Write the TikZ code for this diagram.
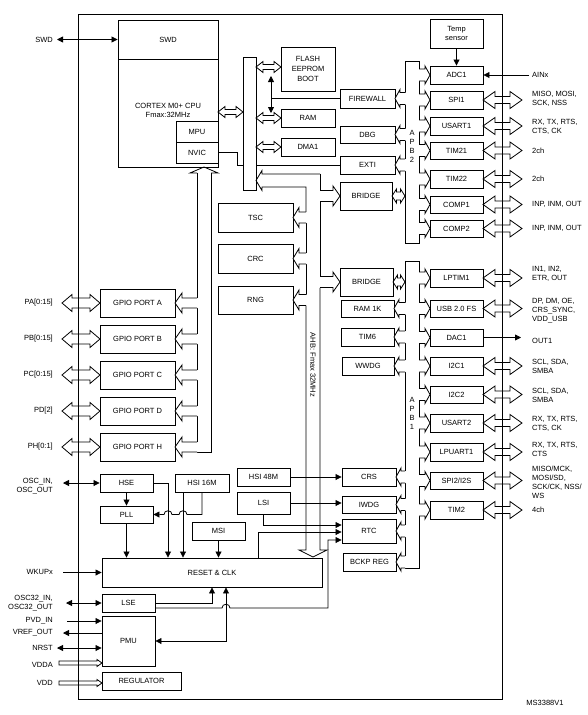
\documentclass[tikz,border=0pt]{standalone}
\usepackage{fontspec}
\setmainfont{Liberation Sans}
\usetikzlibrary{arrows.meta}
\newcommand\fs{\fontsize{7.5}{9}\selectfont}
\tikzset{
  box/.style={draw, line width=0.9pt, fill=white, inner sep=0pt, font=\fs, align=center},
  ln/.style={line width=0.8pt},
  sig/.style={line width=0.8pt, -{Triangle[length=6pt,width=6pt]}},
  dsig/.style={line width=0.8pt, {Triangle[length=6pt,width=6pt]}-{Triangle[length=6pt,width=6pt]}},
  lbl/.style={font=\fs, align=right, anchor=east, inner sep=0pt},
  rlbl/.style={font=\fs, align=left, anchor=west, inner sep=0pt},
  txt/.style={font=\fs, align=center, inner sep=0pt},
}
\newcommand\bx[6]{\node[box, minimum width={(#4-#2)*1pt}, minimum height={(#5-#3)*1pt}] (#1) at ({(#2+#4)/2},{(#3+#5)/2}) {#6};}
% chevron bus connector: tip, wall, yc, S, H, L
\newcommand\chev[6]{%
  \pgfmathsetmacro\chS{sign(#2-#1)}%
  \pgfmathsetmacro\chB{#1+\chS*#6}%
  \pgfmathsetmacro\chM{#2+\chS*1.2}%
  \fill[white] (\chM,{#3-#4}) -- (\chB,{#3-#4}) -- (\chB,{#3-#5}) -- (#1,#3) -- (\chB,{#3+#5}) -- (\chB,{#3+#4}) -- (\chM,{#3+#4}) -- cycle;
  \draw[ln] (#2,{#3-#4}) -- (\chB,{#3-#4}) -- (\chB,{#3-#5}) -- (#1,#3) -- (\chB,{#3+#5}) -- (\chB,{#3+#4}) -- (#2,{#3+#4});
}
% hollow double arrow: x1, x2, y, S, H, L
\newcommand\dblH[6]{%
  \draw[ln] (#1,#3) -- ({#1+#6},{#3-#5}) -- ({#1+#6},{#3-#4}) -- ({#2-#6},{#3-#4}) -- ({#2-#6},{#3-#5}) -- (#2,#3) -- ({#2-#6},{#3+#5}) -- ({#2-#6},{#3+#4}) -- ({#1+#6},{#3+#4}) -- ({#1+#6},{#3+#5}) -- cycle;
}
\begin{document}
\begin{tikzpicture}[x=1pt,y=-1pt]
\useasboundingbox (0,0) rectangle (587,715);
\node[draw, line width=0.9pt, minimum width=424pt, minimum height=685pt, inner sep=0pt] (frame) at (290,356.5) {};

% CPU
\bx{cpu}{118}{20}{218}{167}{}
\bx{swd}{118}{20}{218}{59}{SWD}
\node[txt] (cputxt) at (168,110.5) {CORTEX M0+ CPU\\Fmax:32MHz};
\bx{mpu}{176}{121}{218}{142}{MPU}
\bx{nvic}{176}{142}{218}{163}{NVIC}

% memory side
\bx{flash}{281}{47}{335}{91}{FLASH\\[1pt]EEPROM\\[1pt]BOOT}
\bx{ram}{281}{109}{335}{127}{RAM}
\bx{dma}{281}{138}{335}{156}{DMA1}
\bx{firewall}{340}{89}{395}{108}{FIREWALL}
\bx{dbg}{340}{126}{395}{143}{DBG}
\bx{exti}{340}{156}{395}{174}{EXTI}
\bx{bridgeb}{340}{182}{392}{210}{BRIDGE}
\bx{tsc}{218}{203}{293}{232}{TSC}
\bx{crc}{218}{244}{293}{273}{CRC}
\bx{rng}{218}{286}{293}{314}{RNG}
\bx{bridgea}{340}{268}{393}{296}{BRIDGE}
\bx{ramk}{341}{300}{394}{317}{RAM 1K}
\bx{timsix}{341}{328}{394}{346}{TIM6}
\bx{wwdg}{342}{357}{394}{375}{WWDG}
\bx{hsife}{237}{468}{290}{486}{HSI 48M}
\bx{crs}{342}{468}{396}{486}{CRS}
\bx{lsi}{237}{492}{290}{514}{LSI}
\bx{iwdg}{342}{496}{396}{513}{IWDG}
\bx{rtc}{342}{519}{396}{543}{RTC}
\bx{bckp}{343}{553}{396}{571}{BCKP REG}

% APB2 peripherals
\bx{temp}{430}{19}{483}{48}{Temp\\sensor}
\bx{adc}{430}{66}{483}{84}{ADC1}
\bx{spia}{430}{91}{483}{109}{SPI1}
\bx{usarta}{430}{117}{483}{135}{USART1}
\bx{timta}{430}{142}{483}{159}{TIM21}
\bx{timtb}{430}{170}{483}{188}{TIM22}
\bx{compa}{430}{196}{483}{213}{COMP1}
\bx{compb}{430}{220}{483}{237}{COMP2}
% APB1 peripherals
\bx{lptim}{430}{269}{483}{287}{LPTIM1}
\bx{usb}{430}{300}{483}{317}{USB 2.0 FS}
\bx{dac}{430}{329}{483}{346}{DAC1}
\bx{icca}{430}{357}{483}{375}{I2C1}
\bx{iccb}{430}{386}{483}{403}{I2C2}
\bx{usartb}{430}{414}{483}{432}{USART2}
\bx{lpuart}{430}{443}{483}{461}{LPUART1}
\bx{spib}{430}{472}{483}{489}{SPI2/I2S}
\bx{timtwo}{430}{501}{483}{519}{TIM2}

% GPIO
\bx{gpa}{100}{289}{175}{317}{GPIO PORT A}
\bx{gpb}{100}{325}{175}{353}{GPIO PORT B}
\bx{gpc}{100}{361}{175}{389}{GPIO PORT C}
\bx{gpd}{100}{397}{175}{425}{GPIO PORT D}
\bx{gph}{100}{433}{175}{461}{GPIO PORT H}

% clocks / power
\bx{hse}{100}{474}{153}{492}{HSE}
\bx{hsis}{175}{474}{229}{492}{HSI 16M}
\bx{pll}{100}{506}{153}{523}{PLL}
\bx{msi}{192}{522}{245}{540}{MSI}
\bx{reset}{102}{558}{322}{587}{RESET \& CLK}
\bx{lse}{102}{594}{155}{612}{LSE}
\bx{pmu}{102}{616}{155}{666}{PMU}
\bx{reg}{102}{672}{181}{690}{REGULATOR}

% NVIC -> EXTI (behind bus bar)
\draw[ln] (nvic.east) -- (237,152.5) |- (exti.west);

% bus bars
\bx{cbus}{243}{57}{256}{190}{}
\bx{apbb}{405}{61}{419}{243}{}
\bx{apba}{405}{261}{419}{568}{}
\node[txt] (apbbt) at (412,146.5) {A\\P\\B\\2};
\node[txt] (apbat) at (412,413) {A\\P\\B\\1};

% CPU <-> bus bar, bar <-> memories
\dblH{218}{243}{112}{2.5}{5.5}{7}
\dblH{256}{281}{67}{2.5}{5.5}{7}
\dblH{256}{281}{118}{2.5}{5.5}{7}
\dblH{256}{281}{147}{2.5}{5.5}{7}
\draw[dsig] (271,76) -- (271,113);
\draw[ln] (firewall.west) -- (271,0 |- firewall.west);

% APB2 left side
\chev{395}{405}{98.5}{6}{9}{5}
\chev{395}{405}{134.5}{6}{9}{5}
\chev{395}{405}{165}{6}{9}{5}
\dblH{392}{405}{196}{4}{7}{4.5}
% APB2 right side
\chev{430}{419}{75}{6}{9}{5}
\chev{430}{419}{100}{6}{9}{5}
\chev{430}{419}{126}{6}{9}{5}
\chev{430}{419}{150.5}{6}{9}{5}
\chev{430}{419}{179}{6}{9}{5}
\chev{430}{419}{204.5}{6}{9}{5}
\chev{430}{419}{228.5}{6}{9}{5}
% APB1 left side
\dblH{393}{405}{282}{4}{7}{4.5}
\chev{394}{405}{308.5}{6}{9}{5}
\chev{394}{405}{337}{6}{9}{5}
\chev{394}{405}{366}{6}{9}{5}
\chev{396}{405}{477}{6}{9}{5}
\chev{396}{405}{504.5}{6}{9}{5}
\chev{396}{405}{531}{6}{9}{5}
\chev{396}{405}{562}{6}{9}{5}
% APB1 right side
\chev{430}{419}{278}{6}{9}{5}
\chev{430}{419}{308.5}{6}{9}{5}
\chev{430}{419}{337.5}{6}{9}{5}
\chev{430}{419}{366}{6}{9}{5}
\chev{430}{419}{394.5}{6}{9}{5}
\chev{430}{419}{423}{6}{9}{5}
\chev{430}{419}{452}{6}{9}{5}
\chev{430}{419}{480.5}{6}{9}{5}
\chev{430}{419}{510}{6}{9}{5}

% AHB bus
\draw[ln] (320,174) -- (262,174) -- (262,170.5) -- (256,180.5) -- (262,190.5) -- (262,187) -- (306,187) -- (306,212);
\draw[ln] (320,174) -- (320,190.5);
\draw[ln] (320,201.5) -- (320,276.5);
\draw[ln] (306,223) -- (306,253);
\draw[ln] (306,264) -- (306,294.5);
\draw[ln] (306,305.5) -- (306,550) -- (299,550) -- (313,557) -- (327,550) -- (320,550) -- (320,287.5);
\chev{293}{306}{217.5}{5.5}{10}{6}
\chev{293}{306}{258.5}{5.5}{10}{6}
\chev{293}{306}{300}{5.5}{10}{6}
\chev{340}{320}{196}{5.5}{10}{7}
\chev{340}{320}{282}{5.5}{10}{7}
\node[txt, rotate=-90] (ahbt) at (313,365) {AHB: Fmax 32MHz};

% GPIO bus
\draw[ln] (197,173) -- (197,298);
\draw[ln] (197,308) -- (197,334);
\draw[ln] (197,344) -- (197,370);
\draw[ln] (197,380) -- (197,406);
\draw[ln] (197,416) -- (197,442);
\draw[ln] (197,452) -- (211,452) -- (211,173);
\draw[ln] (197,173) -- (190,173) -- (204,167) -- (218,173) -- (211,173);
\chev{175}{197}{303}{5}{10}{7}
\chev{175}{197}{339}{5}{10}{7}
\chev{175}{197}{375}{5}{10}{7}
\chev{175}{197}{411}{5}{10}{7}
\chev{175}{197}{447}{5}{10}{7}

% GPIO pins
\dblH{62}{100}{303}{5}{8.5}{10}
\dblH{62}{100}{339}{5}{8.5}{10}
\dblH{62}{100}{375}{5}{8.5}{10}
\dblH{62}{100}{411}{5}{8.5}{10}
\dblH{62}{100}{447}{5}{8.5}{10}
\node[lbl] (lpa) at (53,303) {PA[0:15]};
\node[lbl] (lpb) at (53,339) {PB[0:15]};
\node[lbl] (lpc) at (53,375) {PC[0:15]};
\node[lbl] (lpd) at (53,411) {PD[2]};
\node[lbl] (lph) at (53,447) {PH[0:1]};

% left signals
\node[lbl] (lswd) at (53,40) {SWD};
\draw[dsig] (57,39.5) -- (swd.west);
\node[lbl] (losc) at (53,486.5) {OSC\_IN,\\OSC\_OUT};
\draw[dsig] (63,483) -- (hse.west);
\node[lbl] (lwk) at (53,572) {WKUPx};
\draw[sig] (63,572.5) -- (reset.west);
\node[lbl] (losct) at (53,603.5) {OSC32\_IN,\\OSC32\_OUT};
\draw[dsig] (66,603) -- (lse.west);
\node[lbl] (lpvd) at (53,621) {PVD\_IN};
\draw[sig] (67,621) -- (pmu.west |- 0,621);
\node[lbl] (lvref) at (53,633) {VREF\_OUT};
\draw[sig] (pmu.west |- 0,633) -- (63,633);
\node[lbl] (lnrst) at (53,648) {NRST};
\draw[dsig] (57,648) -- (pmu.west |- 0,648);
\node[lbl] (lvdda) at (53,665) {VDDA};
\draw[ln] (59,661) -- (97,661) -- (97,659.5) -- (102,663) -- (97,666.5) -- (97,665) -- (59,665) -- cycle;
\node[lbl] (lvdd) at (53,683) {VDD};
\draw[ln] (59,681) -- (97,681) -- (97,679.5) -- (102,683) -- (97,686.5) -- (97,685) -- (59,685) -- cycle;

% clock tree
\draw[sig] (hse.south) -- (pll.north);
\draw[sig] (hse.east) -| (168,0 |- reset.north);
\draw[sig] (183,0 |- hsis.south) -- (183,0 |- reset.north);
\draw[sig] (202,0 |- hsis.south) |- (187,514.5) .. controls (187,509.5) and (179,509.5) .. (179,514.5) -- (172,514.5) .. controls (172,509.5) and (164,509.5) .. (164,514.5) -- (pll.east);
\draw[sig] (pll.south) -- (pll.south |- reset.north);
\draw[sig] (msi.south) -- (msi.south |- reset.north);
\draw[sig] (lse.east) -| (212,0 |- reset.south);
\draw[sig] (lse.east |- 0,608) -- (222,608) .. controls (222,603) and (230,603) .. (230,608) -- (328,608) |- (rtc.west |- 0,540);
\draw[dsig] (226,0 |- reset.south) |- (pmu.east);
\draw[sig] (258,0 |- reset.north) |- (rtc.west |- 0,532);
\draw[sig] (lsi.south) |- (rtc.west |- 0,525);
\draw[sig] (lsi.east) -- (iwdg.west |- lsi.east);
\draw[sig] (hsife.east) -- (crs.west);

% APB2 right signals
\draw[sig] (temp.south) -- (adc.north);
\draw[sig] (529,75) -- (adc.east);
\node[rlbl] (rain) at (532,75) {AINx};
\dblH{483}{522}{100}{3.5}{8.5}{12}
\node[rlbl] (rspia) at (532,98.5) {MISO, MOSI,\\SCK, NSS};
\dblH{483}{522}{126}{3.5}{8.5}{12}
\node[rlbl] (rusa) at (532,126.5) {RX, TX, RTS,\\CTS, CK};
\dblH{483}{522}{150.5}{3.5}{8.5}{12}
\node[rlbl] (rtima) at (532,150.5) {2ch};
\dblH{483}{522}{179}{3.5}{8.5}{12}
\node[rlbl] (rtimb) at (532,179) {2ch};
\dblH{483}{522}{204.5}{3.5}{8.5}{12}
\node[rlbl] (rcompa) at (532,204) {INP, INM, OUT};
\dblH{483}{522}{228.5}{3.5}{8.5}{12}
\node[rlbl] (rcompb) at (532,228) {INP, INM, OUT};
% APB1 right signals
\dblH{483}{522}{278}{3.5}{8.5}{12}
\node[rlbl] (rlpt) at (532,273.5) {IN1, IN2,\\ETR, OUT};
\dblH{483}{522}{308.5}{3.5}{8.5}{12}
\node[rlbl] (rusb) at (532,311) {DP, DM, OE,\\CRS\_SYNC,\\VDD\_USB};
\draw[sig] (dac.east) -- (521,337.5);
\node[rlbl] (rdac) at (532,341) {OUT1};
\dblH{483}{522}{366}{3.5}{8.5}{12}
\node[rlbl] (ricca) at (532,366) {SCL, SDA,\\SMBA};
\dblH{483}{522}{394.5}{3.5}{8.5}{12}
\node[rlbl] (riccb) at (532,395) {SCL, SDA,\\SMBA};
\dblH{483}{522}{423}{3.5}{8.5}{12}
\node[rlbl] (rusb2) at (532,423.5) {RX, TX, RTS,\\CTS, CK};
\dblH{483}{522}{452}{3.5}{8.5}{12}
\node[rlbl] (rlpu) at (532,449.5) {RX, TX, RTS,\\CTS};
\dblH{483}{522}{480.5}{3.5}{8.5}{12}
\node[rlbl] (rspib) at (532,482.5) {MISO/MCK,\\MOSI/SD,\\SCK/CK, NSS/\\WS};
\dblH{483}{522}{510}{3.5}{8.5}{12}
\node[rlbl] (rtimtwo) at (532,510) {4ch};

\node[txt] (msid) at (545,703) {MS3388V1};
\end{tikzpicture}
\end{document}
